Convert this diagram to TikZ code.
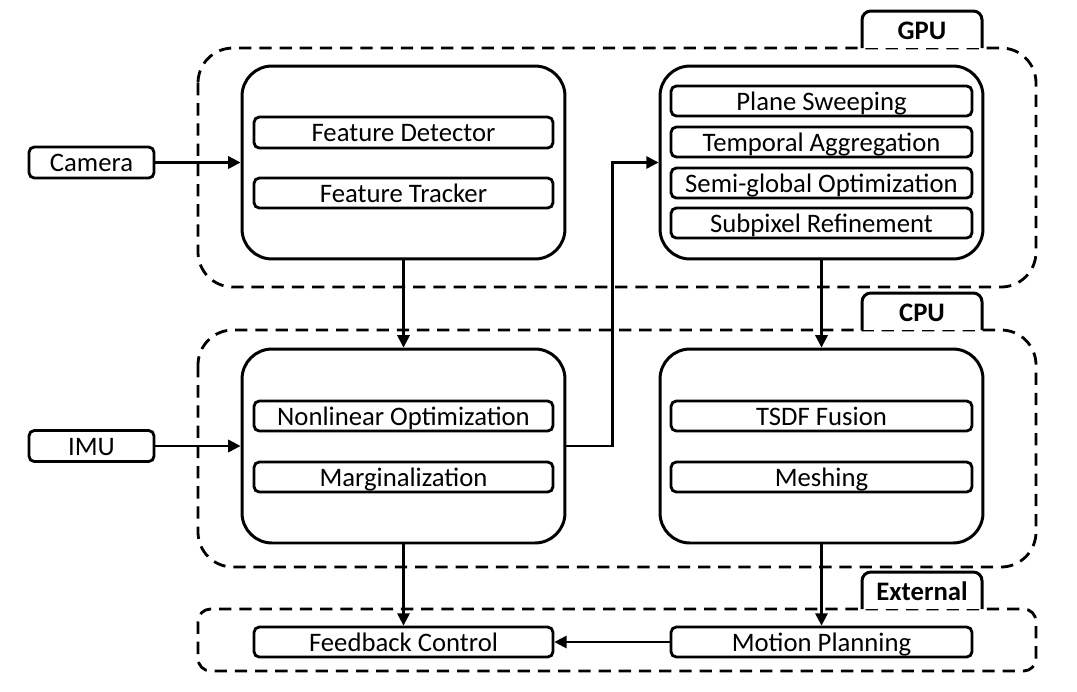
\documentclass[tikz,border=0pt]{standalone}
\usepackage{fontspec}
\setmainfont{Carlito}
\usetikzlibrary{arrows.meta, positioning, calc}

\begin{document}
\begin{tikzpicture}[x=0.02cm, y=-0.02cm,
    font=\fontsize{15.2}{18}\selectfont,
    block/.style={draw, line width=1.7pt, rounded corners=0.6cm, inner sep=0pt},
    unit/.style={draw, line width=1.6pt, rounded corners=3pt, minimum height=0.6cm, inner sep=0pt,
      text height=12.2pt, text depth=1.6pt},
    region/.style={draw, line width=1.6pt, dash pattern=on 7pt off 4.5pt},
    tab/.style={font=\fontsize{15.2}{18}\selectfont\bfseries, text height=12.2pt, text depth=1.6pt},
    arrow/.style={-{Triangle[length=7pt,width=7pt]}, line width=1.3pt}]
  \useasboundingbox (0,0) rectangle (1077,691);

  % dashed regions with their tabs
  \draw[region, rounded corners=0.7cm] (198,48) rectangle (1036,287);
  \draw[region, rounded corners=0.7cm] (198,330) rectangle (1036,567);
  \draw[region, rounded corners=0.25cm] (198,609) rectangle (1036,671);
  \foreach \top/\name in {11/GPU, 293/CPU, 572/External} {
    \fill[white] (862,\top) rectangle (982,\top+37);
    \draw[line width=1.7pt, rounded corners=5pt] (862,\top+37) -- (862,\top) -- (982,\top) -- (982,\top+37);
    \node[tab] (tab\name) at (922,\top+19) {\name};
  }

  % inputs
  \node[unit, minimum width=2.5cm, minimum height=0.62cm] (camera) at (91.5,162.5) {Camera};
  \node[unit, minimum width=2.5cm, minimum height=0.62cm] (imu) at (91.5,446) {IMU};

  % big blocks
  \node[block, minimum width=6.46cm, minimum height=3.86cm] (tracking) at (403.5,162.5) {};
  \node[block, minimum width=6.46cm, minimum height=3.86cm] (depth) at (821.5,162.5) {};
  \node[block, minimum width=6.46cm, minimum height=3.88cm] (estimator) at (403.5,446) {};
  \node[block, minimum width=6.46cm, minimum height=3.88cm] (mapping) at (821.5,446) {};

  % units inside the blocks
  \node[unit, minimum width=5.98cm, minimum height=0.62cm] (detector) at (403.5,132.5) {Feature Detector};
  \node[unit, minimum width=5.98cm] (tracker) at (403.5,193) {Feature Tracker};
  \node[unit, minimum width=6.02cm] (sweep) at (821.5,101) {Plane Sweeping};
  \node[unit, minimum width=6.02cm] (aggregate) at (821.5,142) {Temporal Aggregation};
  \node[unit, minimum width=6.02cm] (sgm) at (821.5,183) {Semi-global Optimization};
  \node[unit, minimum width=6.02cm] (subpixel) at (821.5,223) {Subpixel Refinement};
  \node[unit, minimum width=5.98cm] (nonlinear) at (403.5,416) {Nonlinear Optimization};
  \node[unit, minimum width=5.98cm] (marg) at (403.5,477) {Marginalization};
  \node[unit, minimum width=6.02cm] (tsdf) at (821.5,416) {TSDF Fusion};
  \node[unit, minimum width=6.02cm] (meshing) at (821.5,477) {Meshing};
  \node[unit, minimum width=5.98cm] (feedback) at (403.5,642) {Feedback Control};
  \node[unit, minimum width=6.02cm] (planning) at (821.5,642) {Motion Planning};

  % connections
  \draw[arrow] (camera) -- (tracking);
  \draw[arrow] (imu) -- (estimator);
  \draw[arrow] (tracking) -- (estimator);
  \draw[arrow] (estimator.east) -- ++(46,0) |- (depth.west);
  \draw[arrow] (depth) -- (mapping);
  \draw[arrow] (estimator) -- (feedback);
  \draw[arrow] (mapping) -- (planning);
  \draw[arrow] (planning) -- (feedback);
\end{tikzpicture}
\end{document}
